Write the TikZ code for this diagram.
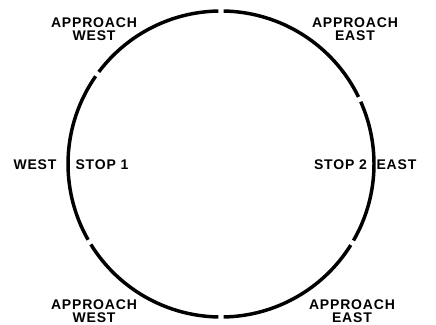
\documentclass[tikz,border=0pt]{standalone}
\usepackage{fontspec}
\setmainfont{Liberation Sans}[LetterSpace=6]
\usepackage{tikz}

\tikzset{
  track/.style={line width=2.6pt},
  place/.style={font=\fontsize{10.5}{10}\selectfont\bfseries, align=center, inner sep=0pt}
}

\begin{document}
\begin{tikzpicture}[x=0.75pt, y=0.75pt]
  \useasboundingbox (0,0) rectangle (436,325);
  \coordinate (c) at (221,161);

  % track, broken at the six section ends
  \foreach \a/\b in {91/143, 145/209.7, 211.7/269, 271/328, 330/384, 26/89}
    \draw[track] ([shift=(\a:153)]c) arc[start angle=\a, end angle=\b, radius=153];

  % approach labels
  \node[place] (apw1) at (94,296) {APPROACH\\WEST};
  \node[place] (ape1) at (355,296) {APPROACH\\EAST};
  \node[place] (apw2) at (94,14) {APPROACH\\WEST};
  \node[place] (ape2) at (352,14) {APPROACH\\EAST};

  % stops
  \node[place] (west) at (35,160) {WEST};
  \node[place] (stop1) at (102,160) {STOP 1};
  \node[place] (stop2) at (340.5,160) {STOP 2};
  \node[place] (east) at (396.5,160) {EAST};
\end{tikzpicture}
\end{document}
